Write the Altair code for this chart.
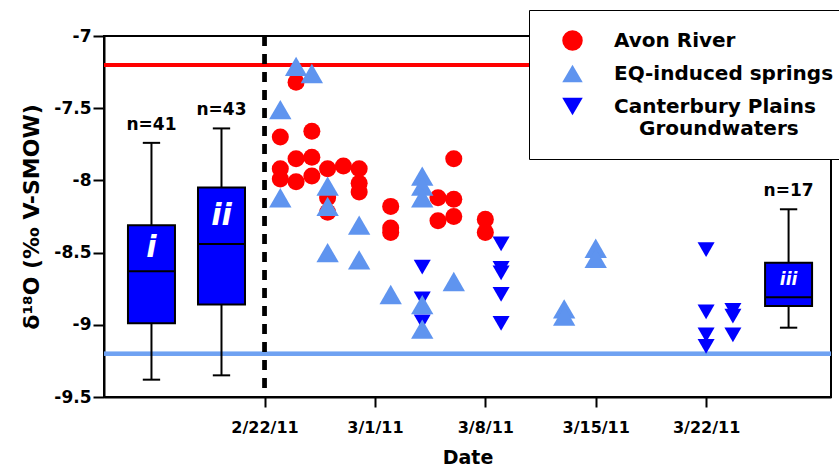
import altair as alt
import pandas as pd

# ---- data (days after 22 Feb 2011) ----
avon_day = [1, 1, 1, 2, 2, 2, 3, 3, 3, 4, 4, 4, 5, 6, 6, 6, 8, 8, 8, 11, 11, 12, 12, 12, 14, 14]
avon_d18o = [-7.70, -7.92, -7.99, -7.32, -7.85, -8.01, -7.66, -7.84, -7.97, -7.92, -8.12, -8.22,
             -7.90, -7.92, -8.02, -8.08, -8.18, -8.33, -8.36, -8.12, -8.28, -7.85, -8.13, -8.25,
             -8.27, -8.36]

springs_day = [1, 1, 2, 3, 4, 4, 4, 6, 6, 8, 10, 10, 10, 10, 10, 12, 19, 19, 21, 21]
springs_d18o = [-7.51, -8.12, -7.21, -7.26, -8.04, -8.18, -8.50, -8.31, -8.55, -8.79,
                -7.97, -8.04, -8.12, -8.86, -9.03, -8.70, -8.89, -8.94, -8.47, -8.54]

gw_day = [10, 10, 10, 15, 15, 15, 15, 15, 28, 28, 28, 28, 29.7, 29.7, 29.7]
gw_d18o = [-8.60, -8.82, -8.98, -8.44, -8.61, -8.64, -8.79, -8.99,
           -8.48, -8.91, -9.07, -9.15, -8.90, -8.94, -9.07]

series_names = ["Avon River", "EQ-induced springs", "Canterbury Plains Groundwaters"]

box_label = ["i", "ii", "iii"]
box_n = ["n=41", "n=43", "n=17"]
box_day = [-7.17, -2.73, 33.23]
box_low = [-9.38, -9.35, -9.02]
box_q1 = [-8.99, -8.86, -8.87]
box_med = [-8.63, -8.44, -8.81]
box_q3 = [-8.31, -8.05, -8.57]
box_high = [-7.74, -7.64, -8.20]

avon_max_line = -7.2
gw_min_line = -9.2
quake_day = 0

x_tick_values = [0, 7, 14, 21, 28]
x_tick_labels = ["2/22/11", "3/1/11", "3/8/11", "3/15/11", "3/22/11"]
y_tick_values = [-9.5, -9.25, -9.0, -8.75, -8.5, -8.25, -8.0, -7.75, -7.5, -7.25, -7.0]

# ---- tables ----
points = pd.concat([
    pd.DataFrame({"day": avon_day, "d18o": avon_d18o, "series": series_names[0]}),
    pd.DataFrame({"day": gw_day, "d18o": gw_d18o, "series": series_names[2]}),
    pd.DataFrame({"day": springs_day, "d18o": springs_d18o, "series": series_names[1]}),
], ignore_index=True)

boxes = pd.DataFrame({"label": box_label, "n": box_n, "day": box_day, "low": box_low,
                      "q1": box_q1, "med": box_med, "q3": box_q3, "high": box_high})

BOX_HALF = 1.49
CAP_HALF = 0.55
FONT = "DejaVu Sans"

xscale = alt.Scale(domain=[-10.18, 35.92], nice=False, zero=False)
yscale = alt.Scale(domain=[-9.5, -7.0], nice=False, zero=False)

xlab_expr = "[" + ",".join("'%s'" % s for s in x_tick_labels) + "][indexof([" + \
    ",".join(str(v) for v in x_tick_values) + "], datum.value)]"
minor_test = "abs(datum.value*2 - round(datum.value*2)) > 0.01"

x_axis = alt.Axis(values=x_tick_values, labelExpr=xlab_expr, title="Date", tickSize=10,
                  labelFontSize=16, labelPadding=12, titleFontSize=19, titlePadding=13)
y_axis = alt.Axis(values=y_tick_values, title="δ¹⁸O (‰ V-SMOW)",
                  labelExpr=f"{minor_test} ? '' : '' + datum.value",
                  tickSize={"condition": {"test": minor_test, "value": 5}, "value": 11},
                  labelFontSize=17, labelPadding=2, titleFontSize=22, titlePadding=10)

base_box = alt.Chart(boxes).transform_calculate(
    xlo=f"datum.day - {BOX_HALF}", xhi=f"datum.day + {BOX_HALF}",
    clo=f"datum.day - {CAP_HALF}", chi=f"datum.day + {CAP_HALF}",
    mid="(datum.q3 + datum.med) / 2")

axes_layer = alt.Chart(boxes).mark_point(opacity=0).encode(
    x=alt.X("day:Q", scale=xscale, axis=x_axis),
    y=alt.Y("med:Q", scale=yscale, axis=y_axis))

red_line = alt.Chart(boxes).mark_rule(color="#ff0000", strokeWidth=4).encode(
    y=alt.datum(avon_max_line, scale=yscale))
blue_line = alt.Chart(boxes).mark_rule(color="#6fa2f2", strokeWidth=4).encode(
    y=alt.datum(gw_min_line, scale=yscale))
quake_line = alt.Chart(boxes).mark_rule(color="black", strokeWidth=4, strokeDash=[10, 8]).encode(
    x=alt.datum(quake_day, scale=xscale))

whisker = base_box.mark_rule(color="black", strokeWidth=2).encode(
    x=alt.X("day:Q", scale=xscale), y=alt.Y("low:Q", scale=yscale), y2="high:Q")
cap_hi = base_box.mark_rule(color="black", strokeWidth=2).encode(
    x=alt.X("clo:Q", scale=xscale), x2="chi:Q", y=alt.Y("high:Q", scale=yscale))
cap_lo = base_box.mark_rule(color="black", strokeWidth=2).encode(
    x=alt.X("clo:Q", scale=xscale), x2="chi:Q", y=alt.Y("low:Q", scale=yscale))
box = base_box.mark_rect(fill="#0000ff", stroke="black", strokeWidth=2).encode(
    x=alt.X("xlo:Q", scale=xscale), x2="xhi:Q", y=alt.Y("q1:Q", scale=yscale), y2="q3:Q")
median = base_box.mark_rule(color="black", strokeWidth=2).encode(
    x=alt.X("xlo:Q", scale=xscale), x2="xhi:Q", y=alt.Y("med:Q", scale=yscale))
box_text = base_box.mark_text(color="white", font=FONT, fontWeight="bold", fontStyle="italic",
                              baseline="middle", align="center").encode(
    x=alt.X("day:Q", scale=xscale), y=alt.Y("mid:Q", scale=yscale), text="label:N",
    size=alt.condition("datum.label == 'iii'", alt.value(17), alt.value(30)))
n_text = base_box.mark_text(color="black", font=FONT, fontWeight="bold", fontSize=17,
                            baseline="alphabetic", align="center", dy=-13).encode(
    x=alt.X("day:Q", scale=xscale), y=alt.Y("high:Q", scale=yscale), text="n:N")

legend = alt.Legend(
    orient="none", legendX=425, legendY=-26, title=None,
    fillColor="white", strokeColor="black", padding=20,
    symbolOffset=13, labelOffset=31, rowPadding=12, symbolSize=420, symbolStrokeWidth=0,
    labelFont=FONT, labelFontWeight="bold", labelFontSize=20, labelColor="black", labelLimit=0,
    labelExpr="datum.label == 'Canterbury Plains Groundwaters' ? "
              "['Canterbury Plains', '\u200b\u2003\u2005Groundwaters'] : datum.label")

color = alt.Color("series:N", scale=alt.Scale(domain=series_names,
                  range=["#ff0000", "#5f94ef", "#0000ff"]), legend=legend)
shape = alt.Shape("series:N", scale=alt.Scale(domain=series_names,
                  range=["circle", "triangle-up", "triangle-down"]), legend=legend)


def series_layer(name, size):
    return alt.Chart(points).transform_filter(alt.datum.series == name).mark_point(
        filled=True, opacity=1, size=size, strokeWidth=0).encode(
        x=alt.X("day:Q", scale=xscale), y=alt.Y("d18o:Q", scale=yscale),
        color=color, shape=shape)


chart = alt.layer(
    axes_layer, red_line, blue_line, quake_line,
    whisker, box, median, cap_hi, cap_lo, box_text, n_text,
    series_layer(series_names[0], 290),
    series_layer(series_names[2], 290),
    series_layer(series_names[1], 500),
).properties(
    width=727, height=361,
    autosize=alt.AutoSizeParams(type="none"),
    padding={"left": 104, "top": 36, "right": 8, "bottom": 75},
).configure_view(stroke="black", strokeWidth=2).configure_axis(
    grid=False, domainColor="black", domainWidth=2, tickColor="black", tickWidth=2,
    labelColor="black", titleColor="black", labelFont=FONT, titleFont=FONT,
    labelFontWeight="bold", titleFontWeight="bold")

chart.save("out.html", embed_options={"renderer": "svg", "actions": False})
